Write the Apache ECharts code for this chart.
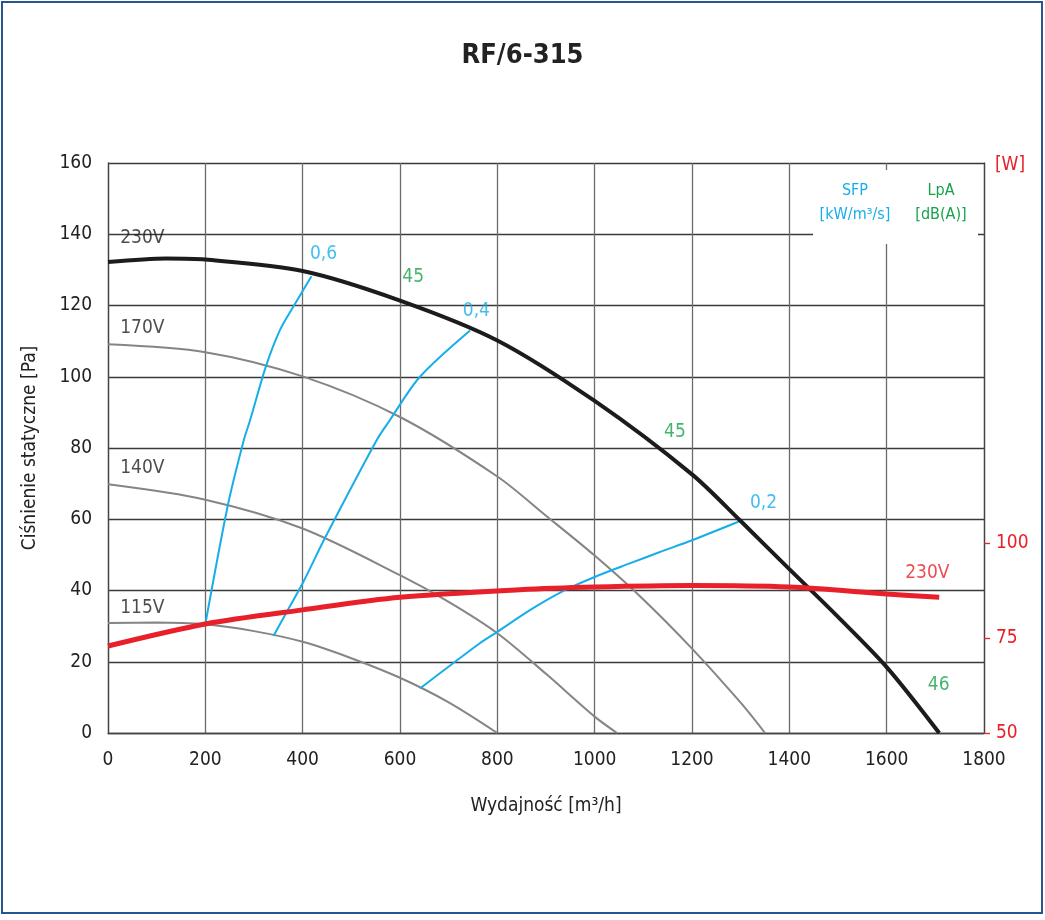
<!DOCTYPE html>
<html>
<head>
<meta charset="utf-8">
<script src="https://cdn.jsdelivr.net/npm/echarts@6/dist/echarts.min.js"></script>
<style>
  html, body { margin: 0; padding: 0; background: #fff; }
  #main { width: 1045px; height: 920px; }
</style>
</head>
<body>
<div id="main"></div>
<script>
// dane: [m3/h, Pa]
var v230 = [[0,132.2],[120,133.2],[200,132.9],[400,129.7],[600,121.4],[800,110.2],[1000,93.2],[1200,72.6],[1300,59.5],[1400,46.0],[1500,32.6],[1600,18.5],[1708,0]];
var v170 = [[0,109.1],[200,106.9],[400,100.1],[600,88.7],[800,72.0],[900,61.0],[1000,49.8],[1100,37.5],[1200,23.7],[1300,8.5],[1350,0]];
var v140 = [[0,69.8],[200,65.5],[400,57.4],[600,44.3],[700,36.8],[800,28],[900,16.6],[1000,4.6],[1046,0]];
var v115 = [[0,30.9],[100,31.0],[200,30.5],[300,28.6],[400,25.6],[500,21.0],[600,15.5],[700,8.6],[800,0]];
var sfp06 = [[200,30.5],[247,64.4],[279,82.2],[292,87.8],[324,102.7],[353,113],[381,119.7],[418,128.2]];
var sfp04 = [[340,27.2],[367,33.9],[401,42.3],[446,54.8],[552,82.2],[579,87.8],[641,100],[744,113]];
var sfp02 = [[641,12.5],[764,25.2],[800,28.4],[867,34.5],[936,39.9],[1000,43.8],[1072,47.6],[1134,50.8],[1200,54.1],[1299,59.5]];
// moc [W] dla 230V
var power230 = [[0,72.9],[200,78.7],[400,82.4],[600,85.7],[846,87.7],[1000,88.4],[1200,88.8],[1400,88.4],[1600,86.6],[1708,85.7]];
var wTicks = [50,75,100];

// opisy na wykresie
var blackLabels = [['230V',25,138.8],['170V',25,113.6],['140V',25,74.3],['115V',25,35]];
var blueLabels = [['0,6',415,134.3],['0,4',729,118.3],['0,2',1319,64.5]];
var greenLabels = [['45',627,127.9],['45',1165,84.4],['46',1707,13.5]];

var FONT = "'Liberation Sans Narrow', 'DejaVu Sans Condensed', sans-serif";
var BLUE = '#16aee9', GREEN = '#17a34a', RED = '#e8202a';

function labels(arr, color, align){
  return {
    type:'scatter', symbolSize:0, silent:true, z:5,
    data: arr.map(function(a){ return {value:[a[1],a[2]], name:a[0]}; }),
    label:{show:true, position:'inside', formatter:'{b}', color:color, fontSize:19, fontFamily:FONT, align:align}
  };
}
function line(data, color, w){
  return {type:'line', data:data, smooth:0.3, symbol:'none', silent:true, lineStyle:{color:color, width:w}};
}

var chart = echarts.init(document.getElementById('main'));
chart.setOption({
  animation:false,
  backgroundColor:'#fff',
  title:{text:'RF/6-315', left:'center', top:37, textStyle:{fontFamily:FONT, fontSize:27, fontWeight:'bold', color:'#222'}},
  grid:{left:108, right:61, top:163, bottom:187},
  xAxis:{
    type:'value', min:0, max:1800, interval:200,
    name:'Wydajność [m³/h]', nameLocation:'middle', nameGap:64,
    nameTextStyle:{fontFamily:FONT, fontSize:19, color:'#222'},
    axisLine:{lineStyle:{color:'#444', width:1.3}}, axisTick:{show:false},
    axisLabel:{margin:18, fontFamily:FONT, fontSize:19, color:'#222', formatter:function(v){ return String(v); }},
    splitLine:{lineStyle:{color:'#6b6b6b', width:1.3}}
  },
  yAxis:[{
    type:'value', min:0, max:160, interval:20,
    name:'Ciśnienie statyczne [Pa]', nameLocation:'middle', nameGap:68,
    nameTextStyle:{fontFamily:FONT, fontSize:19, color:'#222'},
    axisLine:{show:true, lineStyle:{color:'#444', width:1.3}}, axisTick:{show:false},
    axisLabel:{margin:16, fontFamily:FONT, fontSize:19, color:'#222'},
    splitLine:{lineStyle:{color:'#3a3a3a', width:1.3}}
  },{
    type:'value', min:50, max:200, interval:25, position:'right',
    axisLine:{show:true, lineStyle:{color:'#444', width:1.3}},
    axisTick:{show:true, length:6, customValues:wTicks, lineStyle:{color:RED, width:1.3}},
    axisLabel:{margin:12, customValues:wTicks, fontFamily:FONT, fontSize:19, color:RED},
    splitLine:{show:false}
  }],
  graphic:[
    {type:'rect', shape:{x:2, y:2, width:1040, height:911}, style:{fill:'none', stroke:'#27568f', lineWidth:2}, z:100},
    {type:'rect', shape:{x:813, y:170, width:165, height:74}, style:{fill:'#fff'}, z:10},
    {type:'text', x:855, y:191, style:{text:'SFP', fill:BLUE, fontFamily:FONT, fontSize:16, textAlign:'center', textVerticalAlign:'middle'}, z:11},
    {type:'text', x:855, y:215, style:{text:'[kW/m³/s]', fill:BLUE, fontFamily:FONT, fontSize:16, textAlign:'center', textVerticalAlign:'middle'}, z:11},
    {type:'text', x:941, y:191, style:{text:'LpA', fill:GREEN, fontFamily:FONT, fontSize:16, textAlign:'center', textVerticalAlign:'middle'}, z:11},
    {type:'text', x:941, y:215, style:{text:'[dB(A)]', fill:GREEN, fontFamily:FONT, fontSize:16, textAlign:'center', textVerticalAlign:'middle'}, z:11},
    {type:'text', x:1010, y:165, style:{text:'[W]', fill:RED, fontFamily:FONT, fontSize:19, textAlign:'center', textVerticalAlign:'middle'}, z:11}
  ],
  series:[
    line(v170, '#858585', 2),
    line(v140, '#858585', 2),
    line(v115, '#858585', 2),
    line(sfp06, BLUE, 2),
    line(sfp04, BLUE, 2),
    line(sfp02, BLUE, 2),
    line(v230, '#1c1c1c', 4),
    {type:'line', yAxisIndex:1, data:power230, smooth:0.3, symbol:'none', silent:true, lineStyle:{color:RED, width:5}},
    labels(blackLabels, '#1e1e1e', 'left'),
    labels(blueLabels, BLUE, 'left'),
    labels(greenLabels, GREEN, 'center'),
    labels([['230V',1638,44.9]], RED, 'left')
  ]
});
</script>
</body>
</html>
